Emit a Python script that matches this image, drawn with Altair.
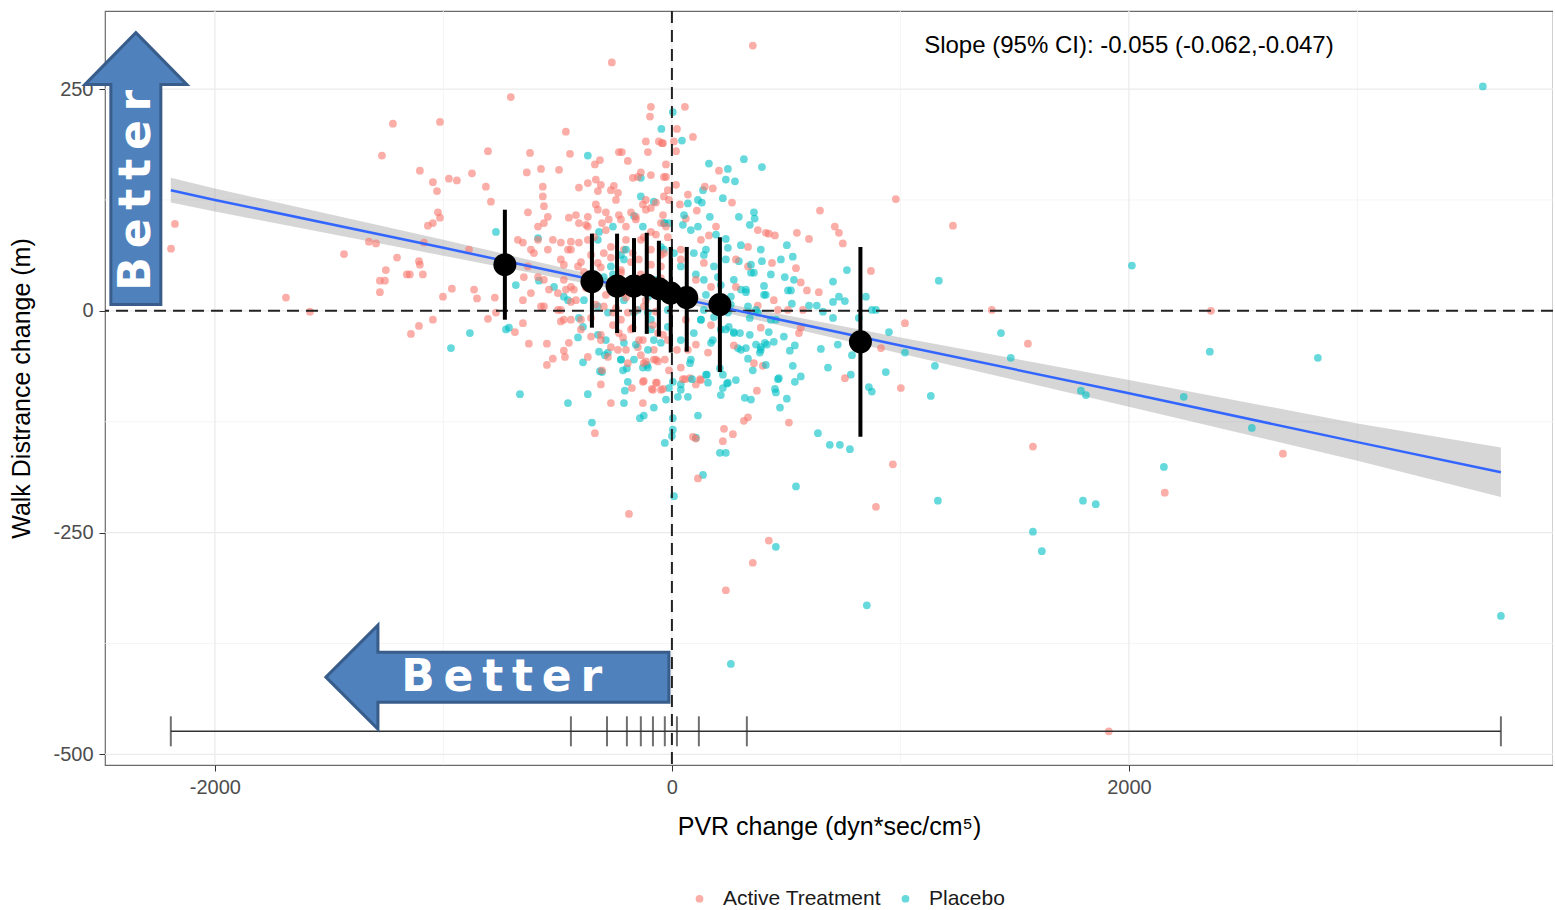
import altair as alt
import pandas as pd

# ---------------- data ----------------
active_points = [
    (-705, 241), (-1221, 211), (-1015, 213), (-1269, 175), (-1103, 158), (-1046, 145), (-1028, 135), (-976, 149), (-941, 147), (-875, 155),
    (-805, 180), (-814, 140), (-792, 123), (-464, 202), (-621, 178), (-635, 156), (-573, 160), (-494, 159), (-446, 177), (-565, 140),
    (-565, 129), (-560, 118), (-630, 111), (-1024, 111), (-1015, 105), (-1068, 96), (-1046, 99), (-1326, 78), (-1295, 76), (-1435, 64),
    (-1203, 60), (-1252, 46), (-1278, 34), (-1256, 34), (-1278, 21), (-1160, 41), (-1147, 41), (-1107, 56), (-1103, 52), (-1090, 41),
    (-963, 25), (-1002, 16), (-866, 24), (-853, 14), (-805, -9), (-1046, -10), (-1107, -17), (-888, 69), (-1085, 77), (-2175, 98),
    (-2192, 70), (-1689, 15), (-1584, -1), (-775, 15), (-770, -2), (-1142, -26), (354, 299), (-263, 280), (57, 230), (22, 205),
    (9, 191), (18, 180), (-39, 189), (92, 196), (206, 158), (-26, 151), (-18, 136), (70, 131), (144, 140), (179, 138),
    (263, 122), (109, 113), (61, 104), (35, 120), (193, 95), (162, 85), (333, 72), (376, 91), (411, 88), (424, 87),
    (451, 85), (547, 88), (600, 81), (648, 113), (713, 95), (731, 88), (748, 76), (980, 126), (1230, 96), (871, 45),
    (1020, -14), (543, 48), (564, 32), (591, 23), (643, 21), (438, 54), (446, 12), (464, 1), (573, 1), (389, -19),
    (333, 50), (280, 58), (915, -42), (1002, -87), (967, -173), (893, -221), (757, -76), (512, -126), (372, -90), (398, -62),
    (359, -59), (333, -120), (315, -124), (267, -139), (228, -133), (223, -147), (92, -142), (105, -144), (114, -189), (556, -25),
    (271, -39), (57, -77), (79, -76), (127, -78), (105, -83), (-66, -81), (-83, -89), (-48, -89), (-127, -80), (-127, -104),
    (-123, -59), (-31, -55), (-61, -57), (376, 6), (508, 1), (564, -19), (-687, -24), (-652, -14), (-626, -37), (-547, -61),
    (-521, -54), (-547, -37), (-473, -45), (-468, -52), (-451, -36), (-486, -12), (-337, -138), (-311, -83), (-306, -67), (-267, -104),
    (-188, -229), (-175, -87), (-114, -57), (-123, -79), (-88, -88), (-70, -81), (-39, -88), (48, -77), (123, -77), (-232, -25),
    (-201, -44), (-149, -41), (-79, -44), (1400, 1), (2359, 0), (1558, -37), (1580, -153), (2674, -161), (2157, -205), (424, -259),
    (236, -315), (354, -284), (1912, -474),
    (-407, 139), (-368, 144), (-333, 148), (-324, 135), (-337, 165), (-315, 170), (-232, 179), (-219, 179), (-193, 169), (-254, 141),
    (-236, 133), (-171, 150), (-149, 151), (-136, 156), (-114, 191), (-105, 179), (-96, 219), (-92, 230), (-57, 191), (-44, 189),
    (-114, 125), (-127, 120), (-92, 116), (-70, 122), (-35, 151), (-451, 105), (-407, 99), (-368, 106), (-324, 114), (-289, 111),
    (-368, 95), (-306, 99), (-276, 103), (-232, 108), (-201, 95), (-179, 111), (-158, 106), (-543, 106), (-521, 80), (-586, 95),
    (-560, 99), (-486, 77), (-455, 69), (-442, 78), (-407, 77), (-368, 80), (-341, 83), (-486, 58), (-473, 52), (-543, 69),
    (-617, 69), (-604, 65), (-674, 80), (-652, 77), (-586, 80), (-630, 50), (-648, 38), (-586, 38), (-560, 35), (-538, 24),
    (-499, 20), (-617, 20), (-652, 12), (-473, 35), (-442, 27), (-411, 50), (-385, 44), (-560, 5), (-486, 1), (-473, -10),
    (-429, 24), (-442, 10), (-324, 54), (-298, 65), (-267, 72), (-210, 69), (-298, 5), (-258, -2), (-210, 20), (-193, -2),
    (-171, 65), (-145, 58), (-123, 83), (-92, 89), (-48, 99), (-26, 95), (-35, 129), (-13, 125), (-35, 65), (-48, 50),
    (-83, 20), (-123, 5), (-254, 35), (-223, 43),
    (140, 54), (105, 35), (39, 69), (-18, 83), (171, 27), (280, 27), (26, 20),
    (-354, -29), (-311, -33), (-267, -41), (-236, -44), (-179, -21), (-144, -33), (-61, -25), (-18, -33), (-223, -10), (-398, -10),
    (-499, 1), (-573, 5), (-368, -52), (-280, -52), (-193, -59), (-79, -55), (70, -44), (158, -47), (39, -64),
]

# extra points estimated in the dense core of the cloud
active_core_points = [
    (-420, 108), (-376, 97), (-333, 120), (-289, 91), (-245, 125), (-201, 80), (-158, 103), (-114, 114), (-70, 86), (-39, 108),
    (-442, 69), (-398, 55), (-354, 63), (-311, 49), (-267, 60), (-223, 46), (-179, 55), (-136, 41), (-92, 52), (-48, 37),
    (-464, 24), (-420, 12), (-376, 26), (-333, 7), (-289, 18), (-245, 3), (-201, 15), (-158, 1), (-114, 12), (-70, -1),
    (-442, -10), (-398, -21), (-354, -8), (-311, -27), (-258, -16), (-214, -30), (-171, -19), (-127, -33), (-83, -16), (-39, -27),
    (-136, 80), (-92, 69), (-179, 29), (-48, 63), (-223, 103), (-311, 142), (-267, 136), (-92, 153), (-26, 165), (18, 142),
    (39, 58), (83, 12), (127, 80), (61, -10), (105, -38), (171, -16), (22, -44), (-13, -67), (-70, -55), (-136, -50),
]

placebo_points = [
    (-770, 89), (-586, 82), (-368, 175), (-46, 205), (-683, 29), (-582, 34), (-516, 27), (-455, 12), (-407, -8), (-726, -21),
    (-884, -25), (-967, -42), (4, 224), (44, 192), (162, 166), (245, 160), (315, 171), (394, 162), (236, 148), (276, 146),
    (136, 136), (223, 127), (131, 122), (70, 121), (166, 106), (293, 106), (359, 111), (362, 104), (341, 97), (-31, 99),
    (48, 97), (114, 95), (236, 81), (245, 71), (140, 63), (293, 56), (394, 56), (503, 74), (529, 61), (494, 38),
    (534, 35), (508, 23), (521, 23), (403, 28), (403, 18), (346, 43), (359, 43), (324, 21), (766, 46), (705, 33),
    (705, 10), (731, 16), (757, 11), (849, 16), (875, 1), (893, 1), (818, -8), (1168, 34), (525, 8), (600, 6),
    (634, 6), (661, -1), (705, -8), (341, -8), (1020, -47), (950, -24), (936, -69), (1133, -96), (1151, -62), (1164, -214),
    (862, -86), (875, -91), (783, -72), (788, -50), (683, -64), (652, -43), (726, -38), (639, -138), (691, -151), (735, -151),
    (779, -156), (543, -198), (564, -74), (538, -80), (503, -99), (473, -109), (464, -77), (451, -88), (455, -92), (529, -62),
    (538, -39), (516, -45), (490, -29), (446, -35), (424, -24), (407, -36), (389, -44), (385, -47), (354, -67), (333, -54),
    (319, -98), (341, -27), (298, -25), (324, -42), (289, -42), (271, -24), (241, -82), (223, -87), (210, -160), (236, -160),
    (136, -185), (114, -118), (105, -143), (70, -97), (158, -81), (153, -72), (79, -59), (26, -97), (9, -209), (4, -121),
    (4, -134), (0, -141), (-31, -149), (-79, -109), (-123, -118), (-127, -64), (-109, -61), (-665, -94), (-713, -19), (-455, -104),
    (-368, -94), (-350, -126), (-389, -58), (-411, -30), (-389, -18), (-324, -27), (-319, -46), (-293, -50), (-315, -68), (-306, -69),
    (-223, -55), (-214, -67), (-197, -65), (-193, -80), (-206, -90), (-210, -104), (-140, -121), (-105, -64), (-13, -87), (4, -80),
    (39, -83), (88, -77), (210, -65), (223, -72), (245, -81), (468, -76), (389, -41), (416, -38), (1440, -25), (1483, -53),
    (1790, -90), (1812, -95), (2240, -97), (2354, -46), (2827, -53), (2538, -132), (2153, -176), (1799, -214), (1855, -218), (1580, -249),
    (1619, -271), (3628, -344), (2013, 51), (3549, 253), (853, -332), (258, -398), (455, -266), (-319, 89), (-324, 80), (-258, 95),
    (-166, 107), (-136, 150), (-136, 129), (-79, 123), (-35, 99), (-13, 99), (-127, 95), (-223, 63), (-210, 58), (-267, 50),
    (-210, 12), (-35, 69), (-48, 16), (-18, 1), (-166, -2), (-105, 16), (-385, 12), (-473, 16), (-298, 38), (-123, 35),
    (-92, -10), (-48, 72), (9, 65), (96, 65), (184, 50), (201, 38), (140, 35), (271, 35), (302, 24), (258, 16),
    (39, 50), (140, 1), (245, -2), (333, 5), (-324, 5), (-280, -2), (-149, 1), (-105, -2), (-79, -33), (-48, -36),
    (-166, -55), (-105, -44), (39, -33), (96, -25), (171, -36), (-210, -36), (-280, -47), (127, -10), (184, -7), (-18, -18),
    (249, -18), (271, -25), (214, -21), (376, -2), (433, -10),
]

placebo_core_points = [
    (83, 91), (149, 69), (193, 86), (236, 58), (302, 74), (346, 52), (389, 69), (433, 41), (477, 58), (105, 41),
    (149, 18), (214, 29), (258, 7), (324, 24), (368, 1), (411, 18), (455, -10), (127, -10), (179, -33), (236, -21),
    (302, -44), (368, -38), (411, -61), (83, -55), (149, -72), (214, -95), (280, -78), (346, -100), (39, -89), (-26, -100),
    (-92, -21), (-158, -38), (-223, -55), (-289, -33), (-136, 24), (-70, 35), (-201, 69), (-258, 41), (53, 108), (114, 125),
]

# binned means with error bars
bin_x = [-731, -350, -240, -166, -110, -57, -5, 65, 210, 825]
bin_mean = [52, 33, 28, 28, 29, 25, 20, 15, 7, -35]
bin_lo = [-10, -19, -25, -24, -26, -29, -47, -46, -69, -142]
bin_hi = [114, 87, 87, 82, 88, 79, 72, 72, 83, 72]

# bin boundaries (rug-like rule at the bottom)
cut_x = [-2193, -442, -284, -197, -136, -83, -31, 22, 118, 328, 3628]
cut_y = -474

# regression line and 95% band
fit_x = [-2193, -2000, -1000, 0, 1000, 2000, 3000, 3628]
fit_y = [136, 125, 71, 16, -39, -93, -148, -182]
fit_lo = [122, 112, 62, 12, -48, -108, -169, -210]
fit_hi = [150, 138, 80, 20, -30, -78, -127, -154]

x_ticks = [-2000, 0, 2000]
y_ticks = [-500, -250, 0, 250]
x_grid_major = [-2000, 0, 2000]
x_grid_minor = [-1000, 1000, 3000]
y_grid_major = [-500, -250, 0, 250]
y_grid_minor = [-375, -125, 125]

groups = ["Active Treatment", "Placebo"]
group_colors = ["#F8766D", "#00BFC4"]

slope_label = "Slope (95% CI): -0.055 (-0.062,-0.047)"
better_label = "B\u2009e\u2009t\u2009t\u2009e\u2009r"

# ---------------- chart ----------------
FONT = "Liberation Sans"

xs = alt.Scale(domain=[-2481, 3856], nice=False, zero=False)
ys = alt.Scale(domain=[-512, 338], nice=False, zero=False)

x_axis = alt.Axis(values=x_ticks, labelExpr="'' + datum.value", grid=False, domain=False,
                  tickSize=6, tickColor="#333333", tickWidth=1, labelFontSize=20,
                  labelColor="#4d4d4d", labelFont=FONT, labelPadding=6, titleFont=FONT,
                  titleFontSize=25, titleFontWeight="normal", titleColor="#000000", titlePadding=17)
y_axis = alt.Axis(values=y_ticks, labelExpr="'' + datum.value", grid=False, domain=False,
                  tickSize=6, tickColor="#333333", tickWidth=1, labelFontSize=20,
                  labelColor="#4d4d4d", labelFont=FONT, labelPadding=6, titleFont=FONT,
                  titleFontSize=25, titleFontWeight="normal", titleColor="#000000", titlePadding=18)

X_TITLE = "PVR change (dyn*sec/cm\u2075)"
Y_TITLE = "Walk Distrance change (m)"


def X(field):
    return alt.X(field, type="quantitative", scale=xs, axis=x_axis, title=X_TITLE)


def Y(field):
    return alt.Y(field, type="quantitative", scale=ys, axis=y_axis, title=Y_TITLE)


# interleave groups so neither colour is always on top
act_all = active_points + active_core_points
pla_all = placebo_points + placebo_core_points
rows = []
n = max(len(act_all), len(pla_all))
for i in range(n):
    if i < len(act_all):
        rows.append((act_all[i][0], act_all[i][1], groups[0]))
    if i < len(pla_all):
        rows.append((pla_all[i][0], pla_all[i][1], groups[1]))
scatter_df = pd.DataFrame(rows, columns=["x", "y", "group"])

fit_df = pd.DataFrame({"x": fit_x, "fit": fit_y, "lo": fit_lo, "hi": fit_hi})
bin_df = pd.DataFrame({"x": bin_x, "mean": bin_mean, "lo": bin_lo, "hi": bin_hi})
cut_df = pd.DataFrame({"x": cut_x, "y": [cut_y] * len(cut_x)})
cut_line_df = pd.DataFrame({"x0": [cut_x[0]], "x1": [cut_x[-1]], "y": [cut_y]})

gx_major = alt.Chart(pd.DataFrame({"x": x_grid_major})).mark_rule(color="#EBEBEB", strokeWidth=1.3).encode(x=X("x"))
gx_minor = alt.Chart(pd.DataFrame({"x": x_grid_minor})).mark_rule(color="#F2F2F2", strokeWidth=0.8).encode(x=X("x"))
gy_major = alt.Chart(pd.DataFrame({"y": y_grid_major})).mark_rule(color="#EBEBEB", strokeWidth=1.3).encode(y=Y("y"))
gy_minor = alt.Chart(pd.DataFrame({"y": y_grid_minor})).mark_rule(color="#F2F2F2", strokeWidth=0.8).encode(y=Y("y"))

band = alt.Chart(fit_df).mark_area(color="#999999", opacity=0.4).encode(x=X("x"), y=Y("lo"), y2="hi")

points = alt.Chart(scatter_df).mark_circle(size=60, opacity=0.6).encode(
    x=X("x"), y=Y("y"),
    color=alt.Color("group:N", scale=alt.Scale(domain=groups, range=group_colors),
                    legend=alt.Legend(orient="none", legendX=584, legendY=877, direction="horizontal",
                                      title=None, labelFont=FONT, labelFontSize=21, labelColor="#1a1a1a",
                                      symbolType="circle", symbolSize=60, symbolOpacity=0.6,
                                      symbolStrokeWidth=0, labelOffset=13, columnPadding=14, padding=0)),
)

zero_v = alt.Chart(pd.DataFrame({"x": [0]})).mark_rule(color="#222222", strokeWidth=2, strokeDash=[12, 7]).encode(x=X("x"))
zero_h = alt.Chart(pd.DataFrame({"y": [0]})).mark_rule(color="#222222", strokeWidth=2, strokeDash=[12, 7]).encode(y=Y("y"))

fit_line = alt.Chart(fit_df).mark_line(color="#3366FF", strokeWidth=2.5).encode(x=X("x"), y=Y("fit"))

err = alt.Chart(bin_df).mark_rule(color="black", strokeWidth=4).encode(x=X("x"), y=Y("lo"), y2="hi")
means = alt.Chart(bin_df).mark_circle(size=530, color="black", opacity=1).encode(x=X("x"), y=Y("mean"))

cut_line = alt.Chart(cut_line_df).mark_rule(color="#333333", strokeWidth=1.5).encode(x=X("x0"), x2="x1", y=Y("y"))
cut_ticks = alt.Chart(cut_df).mark_tick(orient="vertical", size=30, thickness=2, color="#333333").encode(x=X("x"), y=Y("y"))

# annotation arrows (custom symbol paths, 1 unit = 1 px at size 4)
up_arrow_path = "M0,-272 L51,-220 L25,-220 L25,0 L-25,0 L-25,-220 L-51,-220 Z"
left_arrow_path = "M-343,0 L-291,-52 L-291,-25 L0,-25 L0,25 L-291,25 L-291,52 Z"
arrow_style = dict(size=4, filled=True, fill="#4F81BD", stroke="#385D8A", strokeWidth=3, opacity=1)
up_arrow = alt.Chart(pd.DataFrame({"x": [-2346], "y": [7]})).mark_point(shape=up_arrow_path, **arrow_style).encode(x=X("x"), y=Y("y"))
left_arrow = alt.Chart(pd.DataFrame({"x": [-13], "y": [-413]})).mark_point(shape=left_arrow_path, **arrow_style).encode(x=X("x"), y=Y("y"))

better_v = alt.Chart(pd.DataFrame({"x": [-2341], "y": [136]})).mark_text(
    text=better_label, font="DejaVu Sans", fontWeight="bold", fontSize=44, color="white",
    angle=270, align="center", baseline="middle").encode(x=X("x"), y=Y("y"))
better_h = alt.Chart(pd.DataFrame({"x": [-745], "y": [-414]})).mark_text(
    text=better_label, font="DejaVu Sans", fontWeight="bold", fontSize=44, color="white",
    align="center", baseline="middle").encode(x=X("x"), y=Y("y"))

slope_text = alt.Chart(pd.DataFrame({"x": [2000], "y": [299]})).mark_text(
    text=slope_label, font=FONT, fontSize=24, color="black", align="center", baseline="middle"
).encode(x=X("x"), y=Y("y"))

chart = alt.layer(
    gx_minor, gy_minor, gx_major, gy_major,
    band, points, zero_v, zero_h, fit_line, err, means,
    cut_line, cut_ticks, up_arrow, left_arrow, better_v, better_h, slope_text,
).properties(
    width=1448, height=754,
    autosize=alt.AutoSizeParams(type="none"),
    padding={"left": 105, "top": 11, "right": 0, "bottom": 143},
    background="white",
).configure_view(stroke="#6b6b6b", strokeWidth=1.2)

chart.save("out.html", embed_options={"renderer": "svg", "actions": False})
